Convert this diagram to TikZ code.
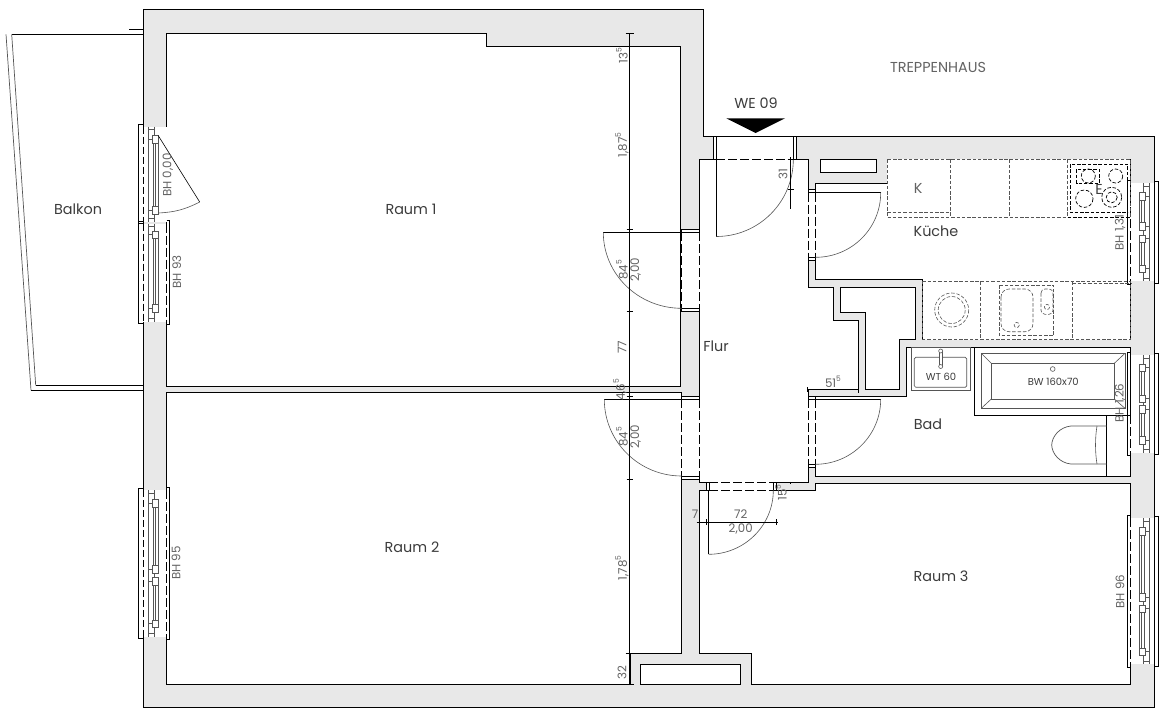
\documentclass[tikz,border=0pt]{standalone}
\usepackage{fontspec}
\setmainfont{Poppins}
\definecolor{wallc}{HTML}{E8E8E8}
\definecolor{txtc}{HTML}{3C3C3C}
\definecolor{dimc}{HTML}{636363}
\definecolor{fixc}{HTML}{555555}
\newcommand\supf[1]{\raisebox{.5em}{\fontsize{7.5}{8}\selectfont #1}}
\newcommand\sashblock[2]{\draw[winl,fill=white] (152.5,#1) rectangle (158.5,#2);}
% window in left-wall geometry: #1 y1 wall gap, #2 y2 wall gap
\newcommand\winouter[2]{%
  \fill[white] (143.3,#1) rectangle (166.5,#2);
  \draw[black,line width=.9pt] (143.3,#1-2) -- (138.5,#1-2) -- (138.5,#2+2) -- (143.3,#2+2);
  \fill[white] (143,#1) rectangle (144,#2);
  \draw[dash pattern=on 7pt off 3pt,black,line width=.8pt] (143.3,#1) -- (143.3,#2);
  \draw[winl] (148.5,#1) -- (148.5,#2) (154.5,#1) -- (154.5,#2);
  \draw[winl] (148.5,#1+3) -- (154.5,#1+3) (148.5,#2-3) -- (154.5,#2-3);
}
\newcommand\wininner[2]{%
  \draw[black,line width=.9pt] (166.5,#1-3) -- (169.8,#1-3) -- (169.8,#2+3) -- (166.5,#2+3);
  \fill[white] (166,#1) rectangle (167,#2);
  \draw[dash pattern=on 9pt off 3pt,black,line width=.8pt] (166.5,#1) -- (166.5,#2);
}
\newcommand\winframe[2]{\winouter{#1}{#2}\wininner{#1}{#2}}
% sash: #1 top block y, #2 bottom block y
\newcommand\sash[2]{%
  \draw[winl,fill=white] (153.3,#1+7) rectangle (158,#2);
  \draw[line width=1.2pt,fixc] (155.6,#1+7) -- (155.6,#2);
  \draw[winl] (148.5,#1+3.5) -- (152.5,#1+3.5) (148.5,#2+3.5) -- (152.5,#2+3.5);
  \sashblock{#1}{#1+7.5}\sashblock{#2}{#2+7.5}
}
\tikzset{
  wall/.style={fill=wallc,draw=black,line width=.9pt,line join=miter},
  room/.style={fill=white,draw=black,line width=.9pt,line join=miter},
  winl/.style={draw=fixc,line width=.6pt},
  doorarc/.style={draw=fixc,line width=.6pt},
  leaf/.style={draw=black,line width=.9pt},
  jamb/.style={fill=white,draw=black,line width=.7pt},
  opening/.style={draw=black,line width=.8pt,dash pattern=on 9pt off 3pt},
  dimline/.style={draw=black,line width=.8pt},
  tick/.style={draw=black,line width=.6pt},
  fix/.style={draw=fixc,line width=.6pt},
  fixb/.style={draw=fixc,line width=.7pt},
  counter/.style={draw=fixc,line width=.6pt,dash pattern=on 3.5pt off 1.8pt},
  counterb/.style={draw=black,line width=.7pt,dash pattern=on 3.5pt off 1.8pt},
  lab/.style={text=txtc,font=\fontsize{14.4}{16}\selectfont,inner sep=0pt},
  dimlab/.style={text=dimc,font=\fontsize{11.8}{13}\selectfont,inner sep=0pt},
  vdim/.style={dimlab,rotate=90},
  fixlab/.style={text=txtc,font=\fontsize{10}{11}\selectfont,inner sep=0pt},
}
\begin{document}
\begin{tikzpicture}[x=1pt,y=-1pt]
\useasboundingbox (0,0) rectangle (1173,721);
\fill[white] (0,0) rectangle (1173,721);
% balcony
\draw[black,line width=.9pt] (11.7,34.3) -- (143.3,34.3);
\draw[black,line width=.7pt] (129,29.3) -- (143.3,29.3);
\draw[fixc,line width=.7pt] (6,34.3) -- (31,390.3);
\draw[fixc,line width=.7pt] (11.7,34.3) -- (35.7,385.3);
\draw[black,line width=.9pt] (35.7,385.3) -- (143.3,385.3) (31,390.3) -- (143.3,390.3);
% structure
\draw[wall] (143.3,9.5) -- (703.3,9.5) -- (703.3,136) -- (1154,136) -- (1154,707) -- (143.3,707) -- cycle;
% rooms
\draw[room] (166.5,33.5) -- (486.3,33.5) -- (486.3,46.3) -- (680.9,46.3) -- (680.9,386.6) -- (166.5,386.6) -- cycle;
\draw[room] (166.5,392.5) -- (681.7,392.5) -- (681.7,653) -- (630,653) -- (630,684.7) -- (166.5,684.7) -- cycle;
\draw[room] (699.3,653) -- (699.3,490.3) -- (815.3,490.3) -- (815.3,483.3) -- (1130.7,483.3) -- (1130.7,684.7) -- (751.3,684.7) -- (751.3,653) -- cycle;
\draw[room] (640.3,664.5) rectangle (740.7,684.7);
\draw[room] (699.3,159.5) -- (808.3,159.5) -- (808.3,287.3) -- (833.3,287.3) -- (833.3,320) -- (858.7,320) -- (858.7,389.3) -- (808.3,389.3) -- (808.3,482.3) -- (699.3,482.3) -- cycle;
\draw[room] (815.7,183.3) -- (887.3,183.3) -- (887.3,159.3) -- (1130.7,159.3) -- (1130.7,339.3) -- (922.3,339.3) -- (922.3,279.3) -- (815.7,279.3) -- cycle;
\draw[room] (840,287.3) -- (915.3,287.3) -- (915.3,339.3) -- (899.3,339.3) -- (899.3,389.3) -- (865.3,389.3) -- (865.3,312.3) -- (840,312.3) -- cycle;
\draw[room] (815.3,396.7) -- (906.7,396.7) -- (906.7,347.3) -- (1130.7,347.3) -- (1130.7,476) -- (815.3,476) -- cycle;
\draw[room] (820,159.5) rectangle (876.5,172.3);
% hide counter edge of kitchen (dashed over)
\fill[white] (887,159.8) rectangle (1130.2,183.5);
\draw[draw=white,line width=1.2pt] (887.3,160) -- (887.3,183) (887.3,159.3) -- (1130,159.3) (923,339.3) -- (1130,339.3);
% door openings in walls
\fill[white] (681,232.3) rectangle (700,308.3);
\draw[jamb] (681.7,229.3) rectangle (699.3,232.3);
\draw[jamb] (681.7,308.3) rectangle (699.3,311.3);
\draw[opening] (681.7,232.3) -- (681.7,308.3);
\draw[opening] (699.3,232.3) -- (699.3,308.3);
\fill[white] (681,399.3) rectangle (700,476);
\draw[jamb] (681.7,396.3) rectangle (699.3,399.3);
\draw[jamb] (681.7,476) rectangle (699.3,479);
\draw[opening] (681.7,399.3) -- (681.7,476);
\draw[opening] (699.3,399.3) -- (699.3,476);
% entrance
\fill[white] (716.3,136.5) rectangle (793.3,160);
\draw[jamb] (713.3,136) rectangle (716.3,159.5);
\draw[jamb] (793.3,136) rectangle (796.3,159.5);
\draw[black,line width=.8pt,dash pattern=on 9pt off 3pt] (716.3,159.5) -- (793.3,159.5);
% kitchen door
\fill[white] (807.8,192.7) rectangle (816.2,257.3);
\draw[jamb] (808.3,189.3) rectangle (815.7,192.7);
\draw[jamb] (808.3,257.3) rectangle (815.7,260.7);
\draw[opening] (808.3,192.7) -- (808.3,257.3);
\draw[opening] (815.7,192.7) -- (815.7,257.3);
% bath door
\fill[white] (807.8,399.3) rectangle (816,464.3);
\draw[jamb] (808.3,396.5) rectangle (815.3,399.3);
\draw[jamb] (808.3,464.3) rectangle (815.3,467.3);
\draw[opening] (808.3,399.3) -- (808.3,464.3);
\draw[opening] (815.3,399.3) -- (815.3,464.3);
% room 3 door
\fill[white] (709,481.8) rectangle (773.3,490.8);
\draw[jamb] (706.7,482.3) rectangle (709.2,490.3);
\draw[jamb] (773.3,482.3) rectangle (776,490.3);
\draw[opening] (709.2,482.3) -- (773.3,482.3);
\draw[opening] (709.2,490.3) -- (773.3,490.3);
% leaves and swing arcs
\draw[leaf] (603.3,232.3) -- (681.7,232.3);
\draw[doorarc] (603.3,232.3) arc[start angle=180,end angle=270,x radius=78.4,y radius=-76];
\draw[leaf] (604.3,399.3) -- (681.7,399.3);
\draw[doorarc] (604.3,399.3) arc[start angle=180,end angle=270,x radius=77.4,y radius=-76.7];
\draw[leaf] (716.3,159.5) -- (716.3,236.5);
\draw[doorarc] (716.3,236.5) arc[start angle=270,end angle=360,x radius=77,y radius=-77];
\draw[leaf] (815.7,192.7) -- (880.7,192.7);
\draw[doorarc] (880.7,192.7) arc[start angle=0,end angle=-90,x radius=65,y radius=-64.6];
\draw[leaf] (815.3,399.3) -- (880.7,399.3);
\draw[doorarc] (880.7,399.3) arc[start angle=0,end angle=-90,x radius=65.4,y radius=-65];
\draw[leaf] (708.5,490.3) -- (708.5,554.3);
\draw[doorarc] (708.5,554.3) arc[start angle=270,end angle=360,x radius=64.8,y radius=-64];
% left windows
\winouter{126.5}{221.5}
\sash{135.3}{206.5}
\winframe{223.5}{321.7}
\sash{231}{304.5}
\winframe{490}{636.7}
\sash{499.3}{565.5}
\sash{577.5}{620}
% door swing of balcony door
\draw[black,line width=.6pt] (158.3,135.7) -- (199.7,202);
\draw[doorarc] (199.7,202) to[bend left=12] (158.3,213);
% right windows (mirrored)
\begin{scope}[xscale=-1,xshift=-1297.3pt]
\winframe{183.3}{281.3}
\sash{192.7}{222.5}
\sash{235}{265}
\winframe{355.3}{452.7}
\sash{364}{395}
\sash{405.5}{436.7}
\winframe{518.3}{664}
\sash{527.3}{593.3}
\sash{605}{648}
\end{scope}
% kitchen counter
\draw[counter] (887.3,159.3) rectangle (1130.7,217.3);
\draw[counter] (887.3,212.3) -- (950.3,212.3) (950.3,159.3) -- (950.3,217.3) (1009.3,159.3) -- (1009.3,217.3) (1067.7,159.3) -- (1067.7,217.3);
\draw[counterb] (1070,164) rectangle (1127.7,212.3);
\draw[counterb] (1067.7,217.3) -- (1130.7,217.3);
\draw[counterb] (1076.7,169.3) rectangle (1099.3,183.3);
\draw[counterb] (1088.3,176) circle[radius=7];
\draw[counterb] (1115.7,176) circle[radius=7];
\draw[counterb] (1084.3,198.7) circle[radius=8.7];
\draw[counterb] (1111.7,197.3) circle[radius=10];
\draw[counterb] (1111.7,197.3) circle[radius=5.5];
\draw[counter] (922.3,281.3) -- (1130.7,281.3) -- (1130.7,339.3) -- (922.3,339.3) -- cycle;
\draw[counter] (1072.3,283) -- (1130.7,283);
\draw[counter] (980.3,281.3) -- (980.3,339.3) (1072.3,281.3) -- (1072.3,339.3);
\draw[counter] (951.7,310) circle[radius=17];
\draw[counter] (951.7,310) circle[radius=13.5];
\draw[counter] (999.3,285) rectangle (1053.7,335.7);
\draw[counter,rounded corners=8pt] (1001,289) rectangle (1033,331.7);
\draw[counter,rounded corners=4pt] (1041,289) rectangle (1053,314.3);
\draw[counter] (1047,307) circle[radius=2.6];
\draw[counter] (1016.7,325) circle[radius=2.6];
% bath fixtures
\draw[fix] (911.3,347.3) rectangle (970,390);
\draw[fixb,rounded corners=1.5pt] (914.3,357.3) rectangle (966.7,387.3);
\draw[fix,fill=white] (939.3,351) rectangle (942.2,366);
\draw[fix,fill=white] (940.7,351) circle[radius=2];
\draw[fix,fill=white] (940.7,366.5) circle[radius=2];
\draw[black,line width=.7pt] (974.3,347.3) rectangle (1130.7,415.3);
\draw[fixb] (981.3,353.3) rectangle (1125,408.3);
\draw[fixb] (991.3,363.3) rectangle (1114.3,399);
\draw[fix] (981.3,353.3) -- (991.3,363.3) (1125,353.3) -- (1114.3,363.3) (981.3,408.3) -- (991.3,399) (1125,408.3) -- (1114.3,399);
\draw[fix] (1052.7,369) circle[radius=2.4];
\draw[black,line width=.7pt] (1106.7,415.3) -- (1106.7,476);
\draw[fixb] (1106.7,426) -- (1071,426) .. controls (1060,427) and (1052,436) .. (1051.7,445) .. controls (1052,454) and (1060,463) .. (1071,464) -- (1106.7,464);
\draw[fix] (1097,426) .. controls (1095,438) and (1095,452) .. (1097,464);
% dimension lines
\draw[tick] (629.5,33.5) -- (629.5,46.3);
\draw[dimline] (629.5,46.3) -- (629.5,684.7);
\foreach \yy/\ww in {33.5/4,46.3/2,229.3/3,311.3/3,386.7/3,392.5/2,396/3,479/3,653/4,684.7/4}
  \draw[tick] (629.5-\ww,\yy) -- (629.5+\ww,\yy);
\draw[tick] (790.7,157) -- (790.7,209);
\draw[tick] (787.5,159.5) -- (794,159.5) (787.5,189.5) -- (794,189.5);
\draw[dimline] (808.3,389.3) -- (858.7,389.3);
\draw[tick] (807.7,387) -- (807.7,392) (858.5,387) -- (858.5,393);
\draw[dimline] (696.7,522.3) -- (778,522.3);
\draw[tick] (699.3,519.3) -- (699.3,525.3) (706.7,519.3) -- (706.7,525.3) (776.5,519.3) -- (776.5,525.3);
\draw[tick] (790,481.8) -- (790,484.2);
% WE marker
\path[fill=black] (726.3,118.3) -- (785,118.3) -- (755.7,133) -- cycle;
% labels
\node[lab] (balkon) at (78,209.5) {Balkon};
\node[lab] (raum1) at (411,209.5) {Raum 1};
\node[lab] (raum2) at (412,547.5) {Raum 2};
\node[lab] (raum3) at (941,576.5) {Raum 3};
\node[lab] (flur) at (716,346.5) {Flur};
\node[lab] (kueche) at (936,231.5) {Küche};
\node[lab] (bad) at (928,424.5) {Bad};
\node[lab] (we) at (756,103.5) {WE 09};
\node[lab,text=dimc] (trep) at (938,67.5) {TREPPENHAUS};
\node[lab,text=dimc] (klab) at (918.3,188.5) {K};
\node[lab,text=txtc] (elab) at (1099,189) {E};
\node[fixlab] (wt) at (941,376.7) {WT 60};
\node[fixlab] (bw) at (1053.3,381.7) {BW 160x70};
\node[vdim] (bh0) at (168,175) {BH 0,00};
\node[vdim] (bh93) at (176.7,272) {BH 93};
\node[vdim] (bh95) at (176,563) {BH 95};
\node[vdim] (bh96) at (1120,591.7) {BH 96};
\node[vdim] (bh131) at (1120,232.7) {BH 1,31};
\node[vdim] (bh126) at (1120,403) {BH 1,26};
\node[vdim] (d135) at (622,56) {13\supf{5}};
\node[vdim] (d1875) at (622,145) {1,87\supf{5}};
\node[vdim] (d845a) at (622,270) {84\supf{5}};
\node[vdim] (d200a) at (635.7,270) {2,00};
\node[vdim] (d77) at (622,347) {77};
\node[vdim] (d465) at (620,390) {4,6\supf{5}};
\node[vdim] (d845b) at (622,437) {84\supf{5}};
\node[vdim] (d200b) at (635.7,437) {2,00};
\node[vdim] (d1785) at (622,568) {1,78\supf{5}};
\node[vdim] (d32) at (622,673) {32};
\node[vdim] (d31) at (783,174) {31};
\node[vdim] (d155) at (781,492.5) {15\supf{5}};
\node[dimlab] (d515) at (833,381.7) {51\supf{5}};
\node[dimlab] (d7) at (695,514.3) {7};
\node[dimlab] (d72) at (740.7,514.3) {72};
\node[dimlab] (d200c) at (740.7,529.3) {2,00};
\end{tikzpicture}
\end{document}
